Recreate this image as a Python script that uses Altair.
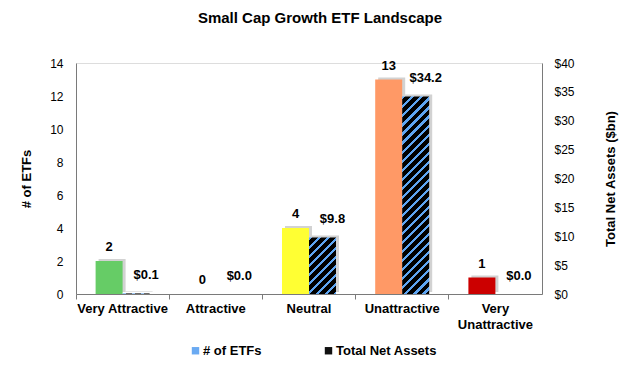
import math
import altair as alt
import pandas as pd

# ---------------- data ----------------
categories = ["Very Attractive", "Attractive", "Neutral", "Unattractive", "Very Unattractive"]
etf_counts = [2, 0, 4, 13, 1]
net_assets = [0.1, 0.0, 9.8, 34.2, 0.0]
bar_colors = ["#66cc66", "#a5a5a5", "#ffff33", "#ff9966", "#cc0000"]
series = ["# of ETFs", "Total Net Assets"]
series_colors = ["#6aaaf2", "#111111"]
etf_ticks = [0, 2, 4, 6, 8, 10, 12, 14]
asset_ticks = [0, 5, 10, 15, 20, 25, 30, 35, 40]

df = pd.DataFrame({
    "category": categories,
    "etfs": etf_counts,
    "assets": net_assets,
    "etf_label": [str(v) for v in etf_counts],
    "asset_label": ["$" + f"{v:.1f}" for v in net_assets],
})
legend_df = pd.DataFrame({"series": series})

# ---------------- style ----------------
FONT = "Liberation Sans"
W, H = 466, 231
BW = 27
HALF = 13.5
STRIPE_BLUE = "#5ea5f2"
AXIS_GREY = "#7a7a7a"
SHADOW = "#d2d2d2"


def hatch(w, h, period=6.4, blue_frac=0.35):
    h = max(h, 0.5)
    s = (w + h) / (w * w + h * h)
    n = (w + h) / (math.sqrt(2) * period)
    stops = []
    k = 0
    while k / n < 1:
        t0 = k / n
        t1 = min((k + blue_frac) / n, 1)
        t2 = min((k + 1) / n, 1)
        stops += [
            {"offset": t0, "color": STRIPE_BLUE},
            {"offset": t1, "color": STRIPE_BLUE},
            {"offset": t1, "color": "#000000"},
            {"offset": t2, "color": "#000000"},
        ]
        k += 1
    return {"gradient": "linear", "x1": 0, "y1": 0, "x2": s * w, "y2": s * h, "stops": stops}


xscale = alt.Scale(domain=categories, paddingInner=0, paddingOuter=0)

x_labels = alt.X(
    "category:N", sort=categories, scale=xscale,
    axis=alt.Axis(
        orient="bottom", title=None, ticks=False, domain=False, labelAngle=0,
        labelFont=FONT, labelFontSize=13, labelFontWeight="bold", labelColor="#000000",
        labelPadding=8, labelLimit=0, labelLineHeight=16,
        labelExpr="datum.value == 'Very Unattractive' ? ['Very', 'Unattractive'] : datum.value",
    ),
)
x_ticks = alt.X(
    "category:N", sort=categories, scale=xscale,
    axis=alt.Axis(
        orient="bottom", title=None, labels=False, ticks=True, tickSize=5, bandPosition=0,
        domain=True, domainColor=AXIS_GREY, tickColor=AXIS_GREY,
    ),
)

y_etf = alt.Y(
    "etfs:Q", scale=alt.Scale(domain=[0, 14]),
    axis=alt.Axis(
        orient="left", values=etf_ticks, title="# of ETFs", grid=False, ticks=False,
        domainColor=AXIS_GREY, labelFont=FONT, labelFontSize=12, labelColor="#000000",
        labelPadding=13, titleFont=FONT, titleFontSize=13, titleFontWeight="bold",
        titleColor="#000000", titlePadding=16,
    ),
)
y_assets = alt.Y(
    "assets:Q", scale=alt.Scale(domain=[0, 40]),
    axis=alt.Axis(
        orient="right", values=asset_ticks, title="Total Net Assets ($bn)", grid=False,
        ticks=False, domainColor=AXIS_GREY, labelFont=FONT, labelFontSize=12,
        labelColor="#000000", labelPadding=12, labelExpr="'$' + datum.value",
        titleFont=FONT, titleFontSize=13, titleFontWeight="bold", titleColor="#000000",
        titlePadding=43, titleAngle=270,
    ),
)

base = alt.Chart(df)

# ETF count layer
etf_shadow = base.mark_bar(width=BW, xOffset=-HALF + 3, yOffset=-2, color=SHADOW).encode(
    x=x_labels, y=y_etf)
etf_bars = base.mark_bar(width=BW, xOffset=-HALF).encode(
    x=x_labels, y=y_etf,
    fill=alt.Fill("category:N", scale=alt.Scale(domain=categories, range=bar_colors), legend=None),
)
etf_text = base.mark_text(
    xOffset=-HALF, dy=-14, font=FONT, fontSize=13, fontWeight="bold", color="#000000",
    baseline="middle",
).encode(x=x_labels, y=y_etf, text="etf_label:N")
legend_layer = alt.Chart(legend_df).mark_square(opacity=0).encode(
    color=alt.Color(
        "series:N", scale=alt.Scale(domain=series, range=series_colors),
        legend=alt.Legend(
            orient="none", legendX=113, legendY=281, direction="horizontal", title=None,
            symbolType="square", symbolSize=55, symbolOpacity=1, symbolStrokeWidth=0,
            labelFont=FONT, labelFontSize=13, labelFontWeight="bold", labelColor="#000000",
            labelOffset=1, columnPadding=60, padding=0, labelLimit=0,
        ),
    )
)
etf_layer = alt.layer(etf_shadow, etf_bars, etf_text, legend_layer)

# Total net assets layer
asset_shadow = base.mark_bar(width=BW, xOffset=HALF + 3, yOffset=-2, color=SHADOW).encode(
    x=x_ticks, y=y_assets)
asset_bars = []
for cat, val in zip(categories, net_assets):
    h_px = val / 40 * H
    asset_bars.append(
        base.transform_filter(alt.datum.category == cat)
        .mark_bar(width=BW, xOffset=HALF, fill=hatch(BW, h_px))
        .encode(x=x_ticks, y=y_assets)
    )
asset_text = base.mark_text(
    xOffset=HALF, dx=10, dy=-18, font=FONT, fontSize=13, fontWeight="bold", color="#000000",
    baseline="middle",
).encode(x=x_ticks, y=y_assets, text="asset_label:N")
asset_layer = alt.layer(asset_shadow, *asset_bars, asset_text)

chart = (
    alt.layer(etf_layer, asset_layer)
    .resolve_scale(y="independent")
    .resolve_axis(x="independent", y="independent")
    .properties(
        width=W, height=H,
        autosize=alt.AutoSizeParams(type="none"),
        padding={"left": 68, "top": 55, "right": 80, "bottom": 64},
        title=alt.Title(
            "Small Cap Growth ETF Landscape", font=FONT, fontSize=15, fontWeight="bold",
            color="#000000", anchor="middle", frame="group", dx=11, offset=31,
        ),
    )
    .configure_view(stroke=None)
    .configure(font=FONT)
)

chart.save("out.html", embed_options={"renderer": "svg", "actions": False})
